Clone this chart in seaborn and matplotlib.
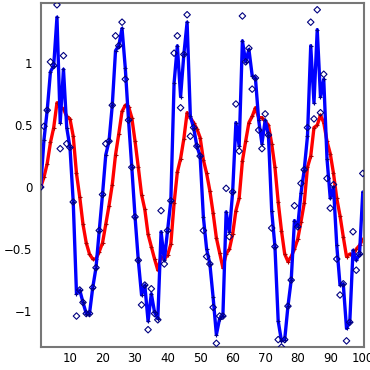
import numpy as np
import pandas as pd
import seaborn as sns
import matplotlib.pyplot as plt
from matplotlib.ticker import MultipleLocator

# x positions
x = list(range(1, 101))

# smooth curve (red)
smooth = [0.0, 0.08, 0.19, 0.36, 0.48, 0.68, 0.65, 0.63, 0.57, 0.55,
          0.41, 0.11, -0.08, -0.30, -0.45, -0.54, -0.58, -0.58, -0.52, -0.45,
          -0.30, -0.15, 0.02, 0.26, 0.43, 0.61, 0.66, 0.65, 0.56, 0.37,
          0.16, -0.06, -0.18, -0.38, -0.48, -0.58, -0.67, -0.56, -0.58, -0.55,
          -0.46, -0.13, 0.12, 0.23, 0.39, 0.60, 0.56, 0.52, 0.47, 0.40,
          0.22, 0.11, -0.03, -0.21, -0.41, -0.53, -0.65, -0.54, -0.50, -0.38,
          -0.19, -0.09, 0.21, 0.37, 0.52, 0.57, 0.64, 0.56, 0.56, 0.53,
          0.50, 0.35, 0.16, -0.12, -0.35, -0.54, -0.60, -0.56, -0.50, -0.42,
          -0.28, -0.13, 0.16, 0.25, 0.48, 0.50, 0.58, 0.52, 0.37, 0.27,
          0.11, -0.09, -0.23, -0.40, -0.56, -0.54, -0.55, -0.50, -0.47, -0.42]

# signal (blue line)
signal = [0.0, 0.38, 0.62, 0.93, 0.98, 1.37, 0.52, 0.95, 0.48, 0.32,
          -0.12, -0.86, -0.83, -0.93, -1.02, -1.02, -0.81, -0.65, -0.35, -0.06,
          0.26, 0.37, 0.66, 1.10, 1.14, 1.28, 0.96, 0.54, 0.16, -0.24,
          -0.59, -0.87, -0.79, -1.08, -0.86, -1.01, -1.06, -0.36, -0.59, -0.35,
          -0.11, 0.84, 1.14, 0.73, 1.07, 1.33, 0.57, 0.48, 0.33, 0.25,
          -0.24, -0.50, -0.62, -0.89, -1.19, -1.06, -1.04, -0.20, -0.36, -0.04,
          0.52, 0.33, 1.18, 1.01, 1.11, 0.90, 0.88, 0.54, 0.35, 0.54,
          0.42, -0.19, -0.48, -1.08, -1.24, -1.23, -0.96, -0.75, -0.27, -0.32,
          -0.05, 0.14, 0.41, 1.14, 0.68, 1.27, 0.73, 0.87, 0.23, -0.09,
          0.0, -0.47, -0.79, -0.78, -1.14, -1.09, -0.51, -0.59, -0.54, -0.04]

# noisy samples (diamonds)
samples = [0.0, 0.49, 0.62, 1.01, 0.98, 1.47, 0.31, 1.06, 0.35, 0.32,
           -0.12, -1.04, -0.83, -0.93, -1.02, -1.02, -0.81, -0.65, -0.35, -0.06,
           0.35, 0.37, 0.66, 1.22, 1.14, 1.33, 0.87, 0.54, 0.16, -0.24,
           -0.59, -0.95, -0.79, -1.15, -0.82, -1.02, -1.07, -0.19, -0.62, -0.35,
           -0.11, 1.08, 1.22, 0.64, 1.07, 1.39, 0.41, 0.48, 0.33, 0.25,
           -0.35, -0.56, -0.62, -0.97, -1.26, -1.04, -1.04, -0.01, -0.40, -0.04,
           0.67, 0.29, 1.38, 1.01, 1.12, 0.79, 0.88, 0.46, 0.31, 0.59,
           0.42, -0.33, -0.48, -1.23, -1.29, -1.23, -0.96, -0.75, -0.15, -0.32,
           0.03, 0.14, 0.48, 1.33, 0.55, 1.43, 0.60, 0.91, 0.07, -0.17,
           0.02, -0.58, -0.87, -0.78, -1.24, -1.09, -0.36, -0.67, -0.54, 0.11]

df = pd.DataFrame({"x": x, "smooth": smooth, "signal": signal, "samples": samples})

sns.set_style("white")
fig = plt.figure(figsize=(3.7, 3.7), dpi=100)
ax = fig.add_axes([0.11, 0.062, 0.874, 0.93])

sns.lineplot(data=df, x="x", y="smooth", ax=ax, color="#ff0000", linewidth=2.4,
             marker="+", markersize=3.5, markeredgecolor="#b00000", markeredgewidth=0.8)
sns.lineplot(data=df, x="x", y="signal", ax=ax, color="#0000ff", linewidth=2.4,
             marker="+", markersize=3.5, markeredgecolor="#000090", markeredgewidth=0.8)
sns.scatterplot(data=df, x="x", y="samples", ax=ax, marker="D", s=11,
                facecolor="none", edgecolor="#000080", linewidth=0.8, zorder=5)

ax.set_xlim(1, 100.4)
ax.set_ylim(-1.29, 1.485)
ax.set_xlabel("")
ax.set_ylabel("")

ax.xaxis.set_minor_locator(MultipleLocator(5))
ax.yaxis.set_minor_locator(MultipleLocator(0.1))
ax.set_yticks([-1, -0.5, 0, 0.5, 1])
ax.set_yticklabels(["\u22121", "\u22120.5", "0", "0.5", "1"])
ax.set_xticks([10, 20, 30, 40, 50, 60, 70, 80, 90, 100])

ax.tick_params(which="both", direction="out", color="#777777", labelsize=8.5,
               labelcolor="black")
ax.tick_params(which="major", length=4, width=1)
ax.tick_params(which="minor", length=2.5, width=1)
ax.tick_params(axis="x", which="both", length=2.5, pad=1)
ax.tick_params(axis="y", pad=2)

for side in ["left", "bottom", "top", "right"]:
    ax.spines[side].set_visible(True)
    ax.spines[side].set_color("#777777")
    ax.spines[side].set_linewidth(1.5)

fig.savefig("out.png", dpi=100)
